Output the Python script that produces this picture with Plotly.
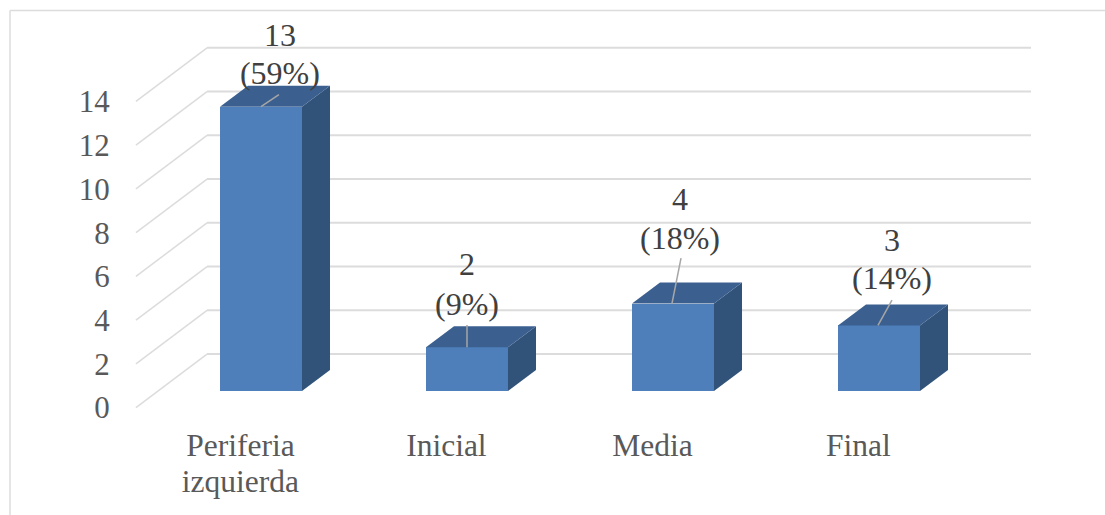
import plotly.graph_objects as go

categories_line1 = ["Periferia", "Inicial", "Media", "Final"]
categories_line2 = ["izquierda", "", "", ""]
values = [13, 2, 4, 3]
percents = ["(59%)", "(9%)", "(18%)", "(14%)"]
y_ticks = [0, 2, 4, 6, 8, 10, 12, 14]

# label anchor positions in axis units (category index, value)
label_x = [0.092, 1.0, 2.034, 3.063]
value_label_y = [16.12, 5.65, 8.66, 6.79]
percent_label_y = [14.42, 3.86, 6.88, 5.01]
leader_start_x = [0.0, 1.0, 1.995, 2.995]
leader_end_x = [0.087, 1.0, 2.039, 3.063]
leader_end_y = [13.55, 3.02, 6.08, 4.16]

# pseudo-3D geometry in axis units
BAR_W = 0.398
DX = 0.136
DY = 0.96
FLOOR_FRONT = -0.76
FLOOR_BACK = 1.69
WALL_LEFT_FRONT = -0.607
WALL_LEFT_BACK = -0.262
WALL_RIGHT = 3.738

FRONT = "#4e7fbb"
TOP = "#3b6090"
SIDE = "#325379"
GRID = "#dcdcdc"
FONT = "Liberation Serif"
TICK_COLOR = "#595959"

fig = go.Figure()
xs = list(range(len(values)))

fig.add_trace(go.Bar(x=xs, y=values, width=BAR_W, marker=dict(color=FRONT, line=dict(width=0)),
                     hoverinfo="skip", showlegend=False))

for x, v in zip(xs, values):
    l, r = x - BAR_W / 2, x + BAR_W / 2
    fig.add_trace(go.Scatter(x=[r, r + DX, r + DX, r, r], y=[0, DY, v + DY, v, 0], fill="toself",
                             fillcolor=SIDE, mode="none", hoverinfo="skip", showlegend=False))
    fig.add_trace(go.Scatter(x=[l, r, r + DX, l + DX, l], y=[v, v, v + DY, v + DY, v], fill="toself",
                             fillcolor=TOP, mode="none", hoverinfo="skip", showlegend=False))

for i in xs:
    fig.add_trace(go.Scatter(x=[leader_start_x[i], leader_end_x[i]], y=[values[i], leader_end_y[i]],
                             mode="lines", line=dict(color="#a6a6a6", width=1.5),
                             hoverinfo="skip", showlegend=False))

for ys, texts in ((value_label_y, [str(v) for v in values]), (percent_label_y, percents)):
    fig.add_trace(go.Scatter(x=label_x, y=ys, mode="text", text=texts,
                             textposition="middle center",
                             textfont=dict(family=FONT, size=32, color="#404040"),
                             hoverinfo="skip", showlegend=False, cliponaxis=False))

# empty trace that keeps the second category-label row active
fig.add_trace(go.Scatter(x=[0], y=[0], xaxis="x2", mode="none", hoverinfo="skip", showlegend=False))

shapes = []
for t in y_ticks:
    shapes.append(dict(type="line", layer="below", xref="x", yref="y",
                       x0=WALL_LEFT_BACK, x1=WALL_RIGHT, y0=t + FLOOR_BACK, y1=t + FLOOR_BACK,
                       line=dict(color=GRID, width=2)))
    shapes.append(dict(type="line", layer="below", xref="x", yref="y",
                       x0=WALL_LEFT_FRONT, x1=WALL_LEFT_BACK, y0=t + FLOOR_FRONT, y1=t + FLOOR_BACK,
                       line=dict(color=GRID, width=1.5)))

L, R, T, B = 120, 65, 30, 99
PW, PH = 1105 - L - R, 515 - T - B
px = lambda p: (p - L) / PW
py = lambda p: 1 - (p - T) / PH
shapes.append(dict(type="line", xref="paper", yref="paper", x0=px(10), x1=px(1105), y0=py(10.5), y1=py(10.5),
                   line=dict(color=GRID, width=1.5), layer="below"))
shapes.append(dict(type="line", xref="paper", yref="paper", x0=px(10), x1=px(10), y0=py(10.5), y1=py(515),
                   line=dict(color=GRID, width=1.5), layer="below"))

xrange_ = [(L - 261) / 206, (1105 - R - 261) / 206]
fig.update_layout(
    width=1105, height=515, margin=dict(l=L, r=R, t=T, b=B, pad=0),
    paper_bgcolor="white", plot_bgcolor="white", shapes=shapes, bargap=0,
    font=dict(family=FONT, color=TICK_COLOR),
    xaxis=dict(range=xrange_, showgrid=False, zeroline=False, showline=False,
               tickmode="array", tickvals=[x - 0.1 for x in xs], ticktext=categories_line1,
               tickfont=dict(family=FONT, size=31.5, color=TICK_COLOR), tickangle=0,
               ticks="outside", ticklen=1, tickcolor="rgba(0,0,0,0)", automargin=False),
    xaxis2=dict(range=xrange_, overlaying="x", side="bottom", anchor="y", showgrid=False, zeroline=False,
                showline=False, tickmode="array", tickvals=[x - 0.1 for x in xs], ticktext=categories_line2,
                tickfont=dict(family=FONT, size=31.5, color=TICK_COLOR), tickangle=0,
                ticks="outside", ticklen=37, tickcolor="rgba(0,0,0,0)", automargin=False),
    yaxis=dict(range=[(391 - (515 - B)) / 21.87, (391 - T) / 21.87], showgrid=False, zeroline=False,
               showline=False, tickmode="array", tickvals=[t + FLOOR_FRONT for t in y_ticks],
               ticktext=[str(t) for t in y_ticks],
               tickfont=dict(family=FONT, size=31, color=TICK_COLOR),
               ticks="outside", ticklen=3, tickcolor="rgba(0,0,0,0)", automargin=False),
)

fig.write_html("out.html", config=dict(displayModeBar=False),
               post_script="document.body.style.margin='0';")
